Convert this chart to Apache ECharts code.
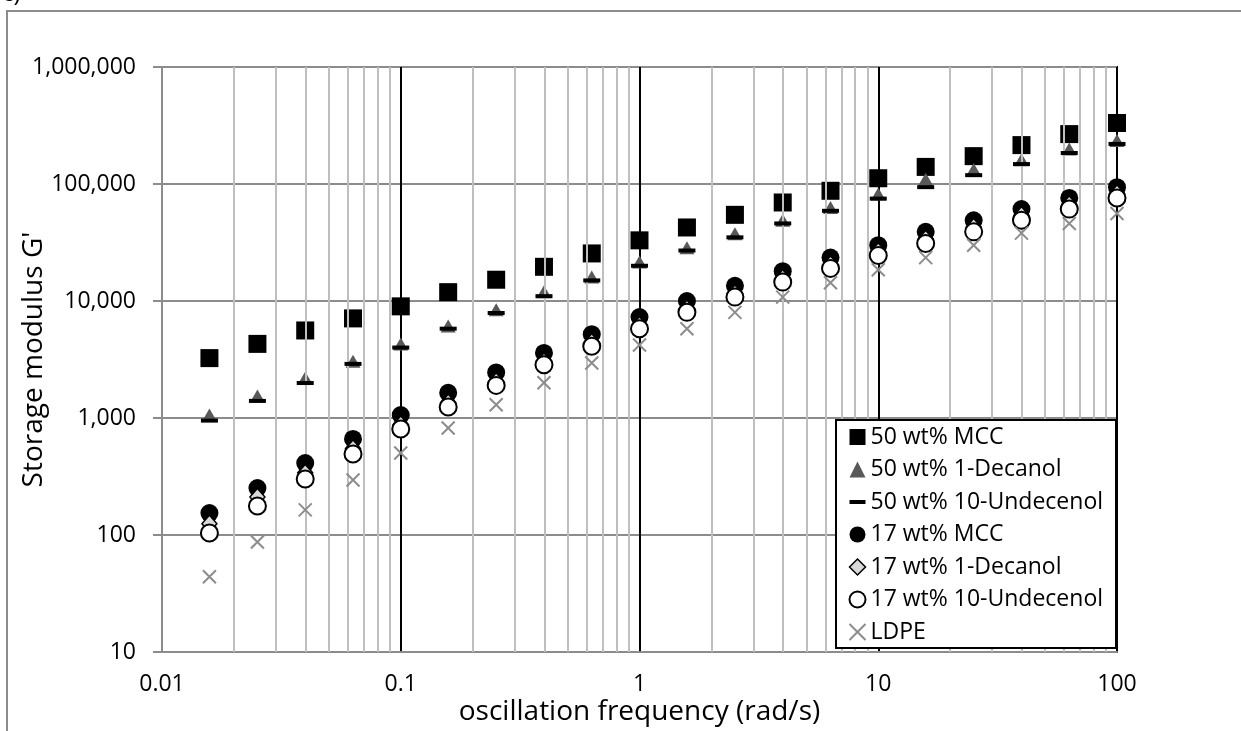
<!DOCTYPE html>
<html><head><meta charset="utf-8">
<script src="https://cdn.jsdelivr.net/npm/echarts@6/dist/echarts.min.js"></script>
<style>html,body{margin:0;padding:0;background:#fff}#c{width:1241px;height:731px}</style>
</head><body><div id="c"></div>
<script>
// oscillation frequency (rad/s)
const frequency = [0.0158,0.0251,0.0398,0.0631,0.1,0.158,0.251,0.398,0.631,1,1.58,2.51,3.98,6.31,10,15.8,25.1,39.8,63.1,100];
// storage modulus G'
const mcc50 = [3250,4300,5600,7100,9000,11900,15200,19600,25500,33000,42500,54500,69500,87500,112000,140000,173000,215000,267000,332000];
const decanol50 = [1060,1540,2200,3050,4300,6100,8400,12000,16000,21500,28500,37500,49000,63000,82000,110000,133000,161000,199000,235000];
const undecenol50 = [950,1400,1990,2900,4000,5800,7900,11000,15000,20000,27000,35000,46000,59000,75000,94000,119000,148000,184000,220000];
const mcc17 = [154,252,412,662,1060,1640,2450,3600,5200,7300,10000,13500,18000,23500,30000,39000,49000,61000,76000,94000];
const decanol17 = [125,211,340,550,880,1350,2050,3050,4450,6200,8600,11600,15700,20500,26500,34000,43000,54000,67000,83000];
const undecenol17 = [104,177,301,492,805,1240,1900,2850,4100,5800,8000,10800,14500,19000,24500,31000,39000,49000,61000,76000];
const ldpe = [44,87,164,295,502,822,1300,2000,2950,4200,5800,8000,10800,14300,18500,23500,30000,38000,46000,56000];

const seriesNames = ['50 wt% MCC','50 wt% 1-Decanol','50 wt% 10-Undecenol','17 wt% MCC','17 wt% 1-Decanol','17 wt% 10-Undecenol','LDPE'];
const xTicks = [0.01,0.1,1,10,100];
const xTickLabels = ['0.01','0.1','1','10','100'];
const yTicks = [10,100,1000,10000,100000,1000000];
const yTickLabels = ['10','100','1,000','10,000','100,000','1,000,000'];
const minorX = [0.02,0.03,0.04,0.05,0.06,0.07,0.08,0.09,0.2,0.3,0.4,0.5,0.6,0.7,0.8,0.9,2,3,4,5,6,7,8,9,20,30,40,50,60,70,80,90];

const FONT = 'Open Sans';
function lookup(ticks, labels, v){
  const i = ticks.findIndex(t => Math.abs(Math.log10(t) - Math.log10(v)) < 1e-6);
  return i >= 0 ? labels[i] : '';
}
const pairs = arr => frequency.map((f,i) => [f, arr[i]]);

const xPath = 'path://M0,0L10,10M10,0L0,10';
const dashPath = 'path://M0,0M16,16M0,6H16V10H0Z';

const styles = [
  {symbol:'rect', size:18, item:{color:'#000', opacity:1}, icon:'rect'},
  {symbol:'triangle', size:[15,13], item:{color:'#595959', opacity:1}, icon:'triangle'},
  {symbol:'rect', size:[17,4], item:{color:'#000', opacity:1}, icon:dashPath},
  {symbol:'circle', size:18, item:{color:'#000', opacity:1}, icon:'circle'},
  {symbol:'diamond', size:[15,17], item:{color:'#d9d9d9', borderColor:'#000', borderWidth:1.5, opacity:1}, icon:'diamond'},
  {symbol:'circle', size:17, item:{color:'#fff', borderColor:'#000', borderWidth:2, opacity:1}, icon:'circle'},
  {symbol:xPath, size:13, item:{color:'none', borderColor:'#8c8c8c', borderWidth:2, opacity:1}, icon:xPath}
];
const dataArrays = [mcc50, decanol50, undecenol50, mcc17, decanol17, undecenol17, ldpe];

const series = [{
  name:'minor', type:'scatter', data:[], z:1, silent:true,
  markLine:{silent:true, symbol:'none', animation:false, label:{show:false},
    lineStyle:{color:'#bfbfbf', width:2, type:'solid'},
    data: minorX.map(v => ({xAxis:v}))}
}];
dataArrays.forEach((arr, k) => {
  series.push({
    name: seriesNames[k], type:'scatter', data: pairs(arr), z: 3 + k,
    symbol: styles[k].symbol, symbolSize: styles[k].size,
    itemStyle: styles[k].item, animation:false
  });
});

const chart = echarts.init(document.getElementById('c'), null, {renderer:'canvas'});
chart.setOption({
  backgroundColor:'#fff',
  animation:false,
  textStyle:{fontFamily:FONT},
  grid:{left:162, right:124, top:67, bottom:79, show:true, borderColor:'#000', borderWidth:2,
        backgroundColor:'transparent', containLabel:false, outerBoundsMode:'none'},
  xAxis:{
    type:'log', logBase:10, min:0.01, max:100,
    name:'oscillation frequency (rad/s)', nameLocation:'middle', nameGap:46, nameMoveOverlap:false,
    nameTextStyle:{fontFamily:FONT, fontSize:28, color:'#000'},
    axisLine:{show:true, lineStyle:{color:'#8c8c8c', width:2}},
    axisTick:{show:false},
    axisLabel:{fontFamily:FONT, fontSize:23, color:'#000', margin:21, formatter:v => lookup(xTicks, xTickLabels, v)},
    splitLine:{show:true, lineStyle:{color:'#000', width:2}},
    minorTick:{show:false}, minorSplitLine:{show:false}
  },
  yAxis:{
    type:'log', logBase:10, min:10, max:1000000,
    name:"Storage modulus G'", nameLocation:'middle', nameGap:114, nameRotate:90, nameMoveOverlap:false,
    nameTextStyle:{fontFamily:FONT, fontSize:28, color:'#000'},
    axisLine:{show:true, lineStyle:{color:'#8c8c8c', width:2}},
    axisTick:{show:true, inside:false, length:9, lineStyle:{color:'#8c8c8c', width:2}},
    axisLabel:{fontFamily:FONT, fontSize:23, color:'#000', margin:26, formatter:v => lookup(yTicks, yTickLabels, v)},
    splitLine:{show:true, lineStyle:{color:'#8c8c8c', width:2}}
  },
  legend:{
    show:true, orient:'vertical', left:847, top:425, z:20,
    selectedMode:false, itemWidth:16, itemHeight:16, itemGap:8.5,
    padding:0, textStyle:{fontFamily:FONT, fontSize:23, color:'#000', lineHeight:24},
    data: seriesNames.map((n,k) => ({name:n, icon:styles[k].icon, itemStyle:styles[k].item}))
  },
  graphic:[
    {type:'rect', z:0, silent:true, shape:{x:7, y:11, width:1300, height:800}, style:{fill:'none', stroke:'#8c8c8c', lineWidth:2}},
    {type:'text', z:0, silent:true, x:2, y:-18, style:{text:'c)', font:'24px "Open Sans"', fill:'#000'}},
    {type:'rect', z:15, silent:true, shape:{x:836, y:420, width:280, height:228}, style:{fill:'#fff', stroke:'#000', lineWidth:2}}
  ],
  series: series
});
</script></body></html>
